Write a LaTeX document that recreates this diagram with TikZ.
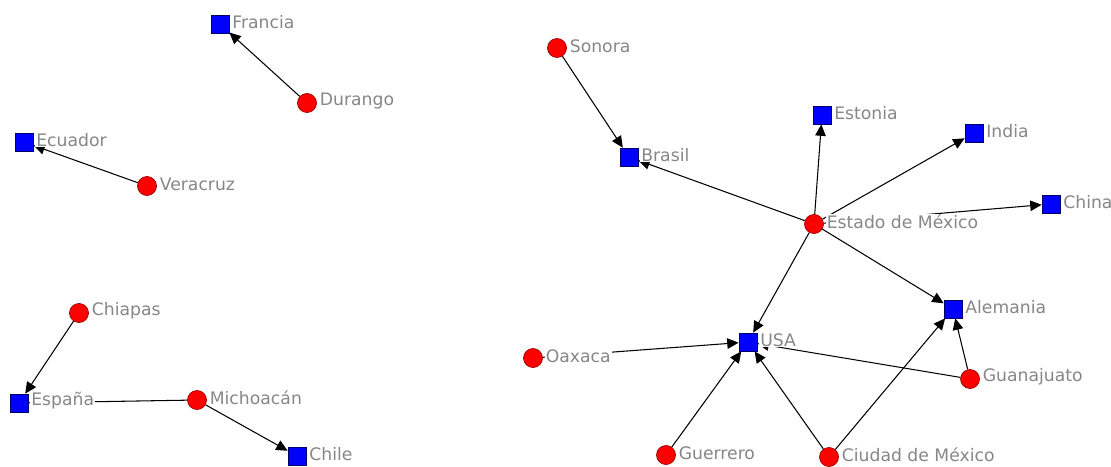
\documentclass[tikz,border=0pt]{standalone}
\usepackage{fontspec}
\setmainfont{DejaVu Sans}
\usepackage{tikz}
\usetikzlibrary{arrows.meta, positioning}
\definecolor{tagGray}{RGB}{135,135,135}

\begin{document}
\begin{tikzpicture}[
            % Define node styles
            actor/.style={circle, draw=red!60!black, fill=red, minimum size=0.38cm, inner sep=0pt},
            country/.style={rectangle, draw=blue!40!black, fill=blue, minimum size=0.36cm, inner sep=0pt},
            tag/.style={fill=white, text=tagGray, inner sep=0.5pt, yshift=1.2pt, font=\fontsize{9.8}{11}\selectfont},
            arrow/.style={line width=0.6pt, -{Triangle[length=6.5pt,width=6pt]}}
        ]
        \useasboundingbox (0,0) rectangle (22.22,-9.32);

        % Left part
        \node[country] (fra) at (4.40,-0.48) {};
        \node[actor] (dur) at (6.14,-2.06) {};
        \node[country] (ecu) at (0.48,-2.84) {};
        \node[actor] (ver) at (2.94,-3.72) {};
        \node[actor] (chs) at (1.58,-6.26) {};
        \node[country] (esp) at (0.38,-8.06) {};
        \node[actor] (mic) at (3.94,-8.00) {};
        \node[country] (chl) at (5.94,-9.12) {};

        % Right part
        \node[actor] (son) at (11.14,-0.96) {};
        \node[country] (bra) at (12.58,-3.14) {};
        \node[country] (est) at (16.44,-2.30) {};
        \node[country] (ind) at (19.48,-2.66) {};
        \node[country] (chn) at (21.02,-4.08) {};
        \node[actor] (mex) at (16.28,-4.48) {};
        \node[country] (ale) at (19.06,-6.18) {};
        \node[country] (usa) at (14.96,-6.84) {};
        \node[actor] (oax) at (10.66,-7.16) {};
        \node[actor] (gto) at (19.40,-7.58) {};
        \node[actor] (gro) at (13.32,-9.10) {};
        \node[actor] (cdmx) at (16.58,-9.14) {};

        % Connections
        \draw[arrow] (dur) -- (fra);
        \draw[arrow] (ver) -- (ecu);
        \draw[arrow] (chs) -- (esp);
        \draw[arrow] (mic) -- (esp);
        \draw[arrow] (mic) -- (chl);
        \draw[arrow] (son) -- (bra);
        \foreach \c in {bra,est,ind,chn,ale,usa}
            \draw[arrow] (mex) -- (\c);
        \draw[arrow] (oax) -- (usa);
        \draw[arrow] (gro) -- (usa);
        \draw[arrow] (gto) -- (usa);
        \draw[arrow] (gto) -- (ale);
        \draw[arrow] (cdmx) -- (usa);
        \draw[arrow] (cdmx) -- (ale);

        % Labels
        \node[tag, right=1pt of fra] (fraL) {Francia};
        \node[tag, right=1pt of dur] (durL) {Durango};
        \node[tag, right=1pt of ecu] (ecuL) {Ecuador};
        \node[tag, right=1pt of ver] (verL) {Veracruz};
        \node[tag, right=1pt of chs] (chsL) {Chiapas};
        \node[tag, right=1pt of esp] (espL) {España};
        \node[tag, right=1pt of mic] (micL) {Michoacán};
        \node[tag, right=1pt of chl] (chlL) {Chile};
        \node[tag, right=1pt of son] (sonL) {Sonora};
        \node[tag, right=1pt of bra] (braL) {Brasil};
        \node[tag, right=1pt of est] (estL) {Estonia};
        \node[tag, right=1pt of ind] (indL) {India};
        \node[tag, right=1pt of chn] (chnL) {China};
        \node[tag, right=1pt of mex] (mexL) {Estado de México};
        \node[tag, right=1pt of ale] (aleL) {Alemania};
        \node[tag, right=1pt of usa] (usaL) {USA};
        \node[tag, right=1pt of oax] (oaxL) {Oaxaca};
        \node[tag, right=1pt of gto] (gtoL) {Guanajuato};
        \node[tag, right=1pt of gro] (groL) {Guerrero};
        \node[tag, right=1pt of cdmx] (cdmxL) {Ciudad de México};

\end{tikzpicture}
\end{document}
